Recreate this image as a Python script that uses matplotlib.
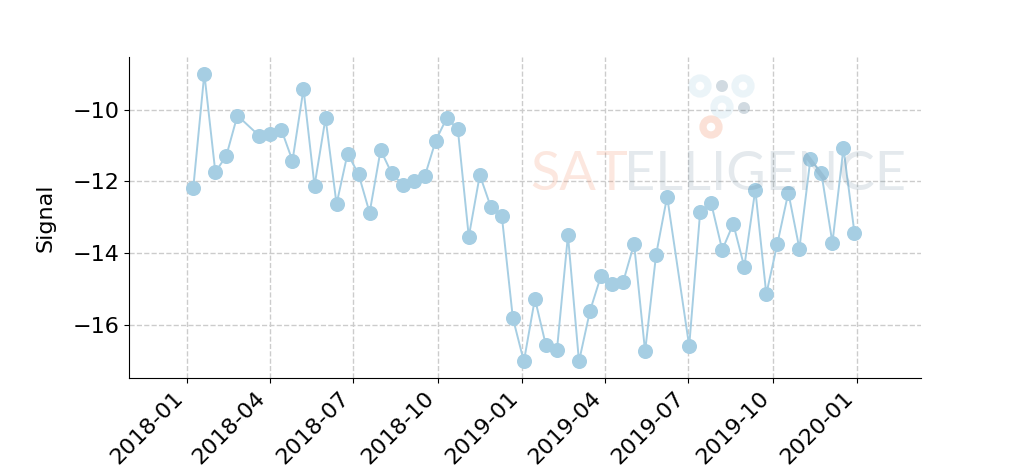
import pandas as pd
import matplotlib
matplotlib.use("Agg")
import matplotlib.pyplot as plt
import matplotlib.dates as mdates
from matplotlib.patches import Circle

# -------------------
# Data
# -------------------
dates = [
    "2018-01-08", "2018-01-20", "2018-02-01", "2018-02-13", "2018-02-25",
    "2018-03-21", "2018-04-02", "2018-04-14", "2018-04-26", "2018-05-08",
    "2018-05-20", "2018-06-01", "2018-06-13", "2018-06-25", "2018-07-07",
    "2018-07-19", "2018-07-31", "2018-08-12", "2018-08-24", "2018-09-05",
    "2018-09-17", "2018-09-29", "2018-10-11", "2018-10-23", "2018-11-04",
    "2018-11-16", "2018-11-28", "2018-12-10", "2018-12-22", "2019-01-03",
    "2019-01-15", "2019-01-27", "2019-02-08", "2019-02-20", "2019-03-04",
    "2019-03-16", "2019-03-28", "2019-04-09", "2019-04-21", "2019-05-03",
    "2019-05-15", "2019-05-27", "2019-06-08", "2019-07-02", "2019-07-14",
    "2019-07-26", "2019-08-07", "2019-08-19", "2019-08-31", "2019-09-12",
    "2019-09-24", "2019-10-06", "2019-10-18", "2019-10-30", "2019-11-11",
    "2019-11-23", "2019-12-05", "2019-12-17", "2019-12-29",
]
signal = [
    -12.17, -8.99, -11.74, -11.28, -10.16,
    -10.73, -10.67, -10.56, -11.42, -9.42,
    -12.12, -10.23, -12.63, -11.22, -11.80,
    -12.87, -11.12, -11.77, -12.09, -12.00,
    -11.86, -10.86, -10.23, -10.53, -13.54,
    -11.82, -12.71, -12.97, -15.81, -17.02,
    -15.27, -16.57, -16.70, -13.50, -17.02,
    -15.61, -14.63, -14.86, -14.81, -13.74,
    -16.74, -14.04, -12.42, -16.59, -12.84,
    -12.61, -13.91, -13.18, -14.38, -12.23,
    -15.14, -13.74, -12.31, -13.87, -11.38,
    -11.77, -13.71, -11.07, -13.43,
]

df = pd.DataFrame({"time": pd.to_datetime(dates), "signal": signal})

# -------------------
# Plot
# -------------------
fig = plt.figure(figsize=(10.24, 4.73), dpi=100)
ax = fig.add_axes([0.126, 0.201, 0.773, 0.679])

ax.plot(df["time"], df["signal"], color="#a6cee3", linewidth=1.4,
        marker="o", markersize=9.8, zorder=3)

ax.set_xlim(pd.Timestamp("2017-10-30"), pd.Timestamp("2020-03-10"))
ax.set_ylim(-17.48, -8.52)
ax.set_yticks([-16, -14, -12, -10])
ax.xaxis.set_major_locator(mdates.MonthLocator(bymonth=[1, 4, 7, 10]))
ax.xaxis.set_major_formatter(mdates.DateFormatter("%Y-%m"))

ax.set_ylabel("Signal", fontsize=16)
ax.yaxis.set_label_coords(-0.093, 0.5)
ax.tick_params(labelsize=16)
plt.setp(ax.get_xticklabels(), rotation=45, ha="right")

ax.grid(True, linestyle="--", color="#cccccc", linewidth=1.0)
ax.spines["top"].set_visible(False)
ax.spines["right"].set_visible(False)

# -------------------
# Watermark
# -------------------
wm = fig.add_axes([0, 0, 1, 1], zorder=5)
wm.set_xlim(0, 1024)
wm.set_ylim(473, 0)
wm.set_aspect("equal")
wm.axis("off")
wm.patch.set_alpha(0)

wm.text(530, 190, "SAT", fontsize=39, family="Lato",
        color="#f08a60", alpha=0.2, va="baseline", ha="left")
wm.text(624, 190, "ELLIGENCE", fontsize=39, family="Lato",
        color="#4a6f88", alpha=0.15, va="baseline", ha="left")

for cx, cy, col, al in [(700, 86, "#a6cee3", 0.22), (743, 86, "#a6cee3", 0.22),
                        (722, 107, "#a6cee3", 0.22), (711, 127, "#f08a60", 0.25)]:
    wm.add_patch(Circle((cx, cy), 8, fill=False, lw=5.2, ec=col, alpha=al))
for cx, cy in [(722, 86), (744, 108)]:
    wm.add_patch(Circle((cx, cy), 6, color="#4a6f88", alpha=0.25, lw=0))

fig.savefig("out.png", dpi=100)
